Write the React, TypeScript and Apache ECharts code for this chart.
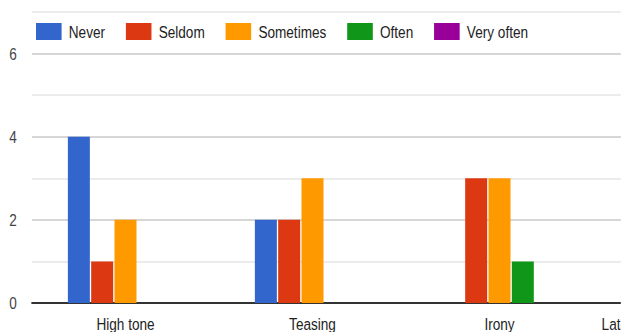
import React, { useEffect, useRef } from "react";
import * as echarts from "echarts";

const categories = ["High tone", "Teasing", "Irony", "Latent passive aggression"];
const seriesNames = ["Never", "Seldom", "Sometimes", "Often", "Very often"];
const never = [4, 2, 0, 0];
const seldom = [1, 2, 3, 0];
const sometimes = [2, 3, 3, 0];
const often = [0, 0, 1, 0];
const veryOften = [0, 0, 0, 0];
const colors = ["#3366cc", "#dc3912", "#ff9900", "#109618", "#990099"];
const yTickLabels = ["0", "2", "4", "6"];

const SX = 0.8;
const W = 776;
const H = 332;
const FONT = "'Liberation Sans', Arial, sans-serif";

export default function App() {
  const ref = useRef<HTMLDivElement>(null);
  useEffect(() => {
    if (!ref.current) return;
    const chart = echarts.init(ref.current, null, { renderer: "svg" });
    const values = [never, seldom, sometimes, often, veryOften];
    chart.setOption({
      animation: false,
      textStyle: { fontFamily: FONT },
      legend: {
        left: 40,
        top: 18,
        itemWidth: 32,
        itemHeight: 17,
        itemGap: 26,
        icon: "rect",
        textStyle: { fontSize: 17, color: "#222", fontFamily: FONT, padding: [0, 0, 0, 4] },
        data: seriesNames,
      },
      grid: {
        left: 40,
        width: 935,
        top: 12,
        height: H - 12 - 29,
        containLabel: false,
        outerBoundsMode: "none",
      },
      xAxis: {
        type: "category",
        data: categories,
        axisTick: { show: false },
        axisLine: { lineStyle: { color: "#333", width: 2 } },
        axisLabel: {
          fontSize: 17,
          color: "#222",
          margin: 12,
          fontFamily: FONT,
          interval: 0,
          formatter: (v: string, i: number) => (i === categories.length - 1 ? `{far|${v}}` : v),
          rich: { far: { fontSize: 17, color: "#222", fontFamily: FONT, padding: [0, 15, 0, 0] } },
        },
        splitLine: { show: false },
      },
      yAxis: {
        type: "value",
        min: 0,
        max: 7,
        interval: 1,
        axisLine: { show: false },
        axisTick: { show: false },
        axisLabel: {
          fontSize: 17,
          color: "#444",
          margin: 19,
          fontFamily: FONT,
          formatter: (v: number) => (yTickLabels.includes(String(v)) ? String(v) : ""),
        },
        splitLine: { lineStyle: { color: ["#c8c8c8", "#e4e4e4"], width: 1.5 } },
      },
      series: seriesNames.map((name, i) => ({
        name,
        type: "bar",
        data: values[i],
        barWidth: 27.5,
        barGap: "6%",
        itemStyle: { color: colors[i] },
      })),
    });
    return () => chart.dispose();
  }, []);
  return (
    <div style={{ position: "fixed", left: 0, top: 0, width: 621, height: H, overflow: "hidden", background: "#fff" }}>
      <div
        ref={ref}
        style={{ width: W, height: H, transform: `scaleX(${SX})`, transformOrigin: "0 0" }}
      />
    </div>
  );
}
